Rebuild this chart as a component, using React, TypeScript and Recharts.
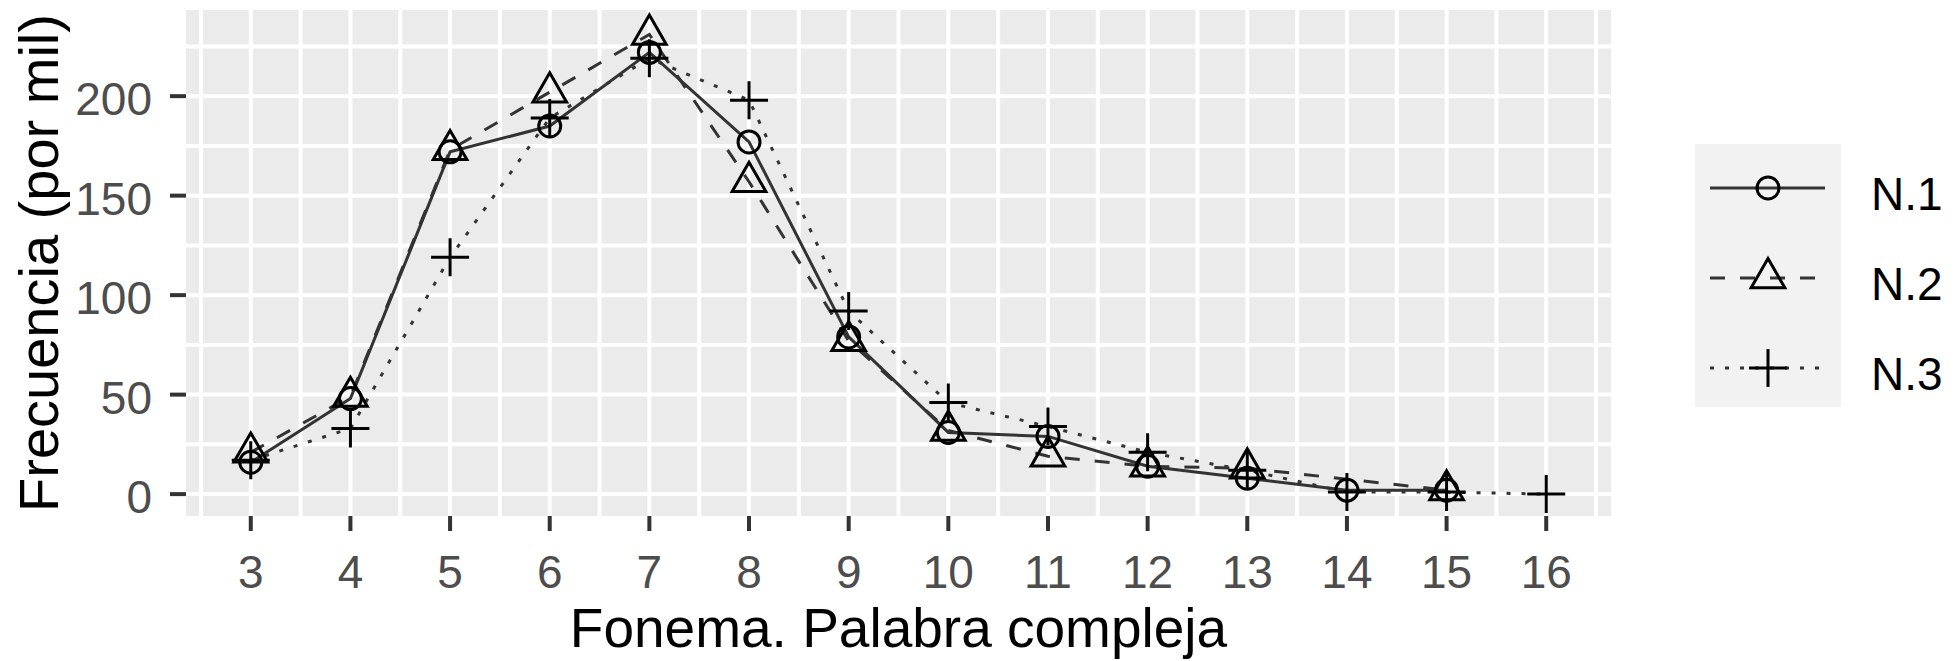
import React from 'react'
import { LineChart, Line, XAxis, YAxis, CartesianGrid } from 'recharts'

// Fonema (number of phonemes) on the x axis
const fonemas = [3, 4, 5, 6, 7, 8, 9, 10, 11, 12, 13, 14, 15, 16]

// frequency per thousand
const n1 = [16, 48, 172, 185, 222, 177, 79, 31, 29, 14, 8, 2, 2, null]
const n2 = [21, 49, 173, 202, 231, 157, 77, 32, 19, 14, 13, null, 2, null]
const n3 = [17, 33, 119, 189, 219, 198, 92, 46, 34, 21, 12, 1, 1, 0]

const seriesNames = ['N.1', 'N.2', 'N.3']

const xTicks = fonemas
const xMinor = [2.5, 3.5, 4.5, 5.5, 6.5, 7.5, 8.5, 9.5, 10.5, 11.5, 12.5, 13.5, 14.5, 15.5, 16.5]
const yTicks = [0, 50, 100, 150, 200]
const yMinor = [25, 75, 125, 175, 225]

const xTitle = 'Fonema. Palabra compleja'
const yTitle = 'Frecuencia (por mil)'

const data = fonemas.map((f, i) => ({ fonema: f, n1: n1[i], n2: n2[i], n3: n3[i] }))

const FONT = '"Liberation Sans", Arial, sans-serif'
const U = 12.5

const CircleMark = ({ cx, cy }: { cx: number; cy: number }) => (
  <circle cx={cx} cy={cy} r={11} fill="none" stroke="#000" strokeWidth={3} />
)

const TriangleMark = ({ cx, cy }: { cx: number; cy: number }) => (
  <polygon
    points={`${cx},${cy - 1.555 * U} ${cx + 1.347 * U},${cy + 0.778 * U} ${cx - 1.347 * U},${cy + 0.778 * U}`}
    fill="none"
    stroke="#000"
    strokeWidth={3}
  />
)

const PlusMark = ({ cx, cy }: { cx: number; cy: number }) => (
  <path d={`M${cx - 19},${cy}H${cx + 19}M${cx},${cy - 19}V${cy + 19}`} stroke="#000" strokeWidth={3} fill="none" />
)

const makeDot = (Shape: any, name: string) => (props: any) => {
  const { cx, cy, index, value } = props
  if (cx == null || cy == null || value == null) return <g key={`${name}-${index}`} />
  return <Shape key={`${name}-${index}`} cx={cx} cy={cy} />
}

const XTick = ({ x, y, payload }: any) => (
  <text x={x} y={y} dy="0.71em" textAnchor="middle" fontSize={46} fill="#4D4D4D" fontFamily={FONT}>
    {payload.value}
  </text>
)

const YTick = ({ x, y, payload }: any) => (
  <text x={x} y={y} dy={19} textAnchor="end" fontSize={46} fill="#4D4D4D" fontFamily={FONT}>
    {payload.value}
  </text>
)

const XTitle = ({ viewBox }: any) => (
  <text
    x={viewBox.x + viewBox.width / 2}
    y={viewBox.y + viewBox.height - 14}
    textAnchor="middle"
    fontSize={55}
    fill="#000"
    fontFamily={FONT}
  >
    {xTitle}
  </text>
)

const YTitle = ({ viewBox }: any) => {
  const cx = viewBox.x + 58
  const cy = viewBox.y + viewBox.height / 2
  return (
    <text x={cx} y={cy} transform={`rotate(-90 ${cx} ${cy})`} textAnchor="middle" fontSize={56} fill="#000" fontFamily={FONT}>
      {yTitle}
    </text>
  )
}

const keys = [
  { dash: undefined, Shape: CircleMark },
  { dash: '15 15', Shape: TriangleMark },
  { dash: '4 11', Shape: PlusMark },
]

const LegendBox = () => (
  <svg width={263} height={263} style={{ position: 'absolute', left: 1695, top: 144 }}>
    <rect x={0} y={0} width={146} height={263} fill="#F2F2F2" />
    {seriesNames.map((name, i) => {
      const y = 44 + i * 90
      const { dash, Shape } = keys[i]
      return (
        <g key={name}>
          <line x1={15} x2={130} y1={y} y2={y} stroke="#333" strokeWidth={3} strokeDasharray={dash} />
          <Shape cx={73} cy={y} />
          <text x={176} y={y + 22} fontSize={46} fill="#000" fontFamily={FONT}>
            {name}
          </text>
        </g>
      )
    })}
  </svg>
)

export default function App() {
  return (
    <div style={{ position: 'absolute', left: 0, top: 0, width: 1958, height: 661, background: '#fff' }}>
      <LineChart width={1958} height={661} data={data} margin={{ top: 10, right: 347, bottom: 0, left: 0 }}>
        <CartesianGrid
          fill="#EBEBEB"
          stroke="#fff"
          strokeWidth={4}
          horizontalValues={[...yMinor, ...yTicks]}
          verticalValues={[...xMinor, ...xTicks]}
        />
        <XAxis
          dataKey="fonema"
          type="number"
          domain={[2.35, 16.65]}
          allowDataOverflow
          ticks={xTicks}
          interval={0}
          height={145}
          axisLine={false}
          tickLine={{ stroke: '#333', strokeWidth: 4 }}
          tickSize={15}
          tickMargin={24}
          tick={<XTick />}
          label={XTitle}
        />
        <YAxis
          type="number"
          domain={[-11, 243.3]}
          allowDataOverflow
          ticks={yTicks}
          interval={0}
          width={186}
          axisLine={false}
          tickLine={{ stroke: '#333', strokeWidth: 4 }}
          tickSize={16}
          tickMargin={18}
          tick={<YTick />}
          label={YTitle}
        />
        <Line dataKey="n1" type="linear" stroke="#333" strokeWidth={3} dot={false} activeDot={false} connectNulls isAnimationActive={false} />
        <Line dataKey="n2" type="linear" stroke="#333" strokeWidth={3} strokeDasharray="15 15" dot={false} activeDot={false} connectNulls isAnimationActive={false} />
        <Line dataKey="n3" type="linear" stroke="#333" strokeWidth={3} strokeDasharray="4 11" dot={false} activeDot={false} connectNulls isAnimationActive={false} />
        <Line dataKey="n1" name={seriesNames[0]} type="linear" stroke="none" dot={makeDot(CircleMark, 'c')} activeDot={false} connectNulls isAnimationActive={false} />
        <Line dataKey="n2" name={seriesNames[1]} type="linear" stroke="none" dot={makeDot(TriangleMark, 't')} activeDot={false} connectNulls isAnimationActive={false} />
        <Line dataKey="n3" name={seriesNames[2]} type="linear" stroke="none" dot={makeDot(PlusMark, 'p')} activeDot={false} connectNulls isAnimationActive={false} />
      </LineChart>
      <LegendBox />
    </div>
  )
}
